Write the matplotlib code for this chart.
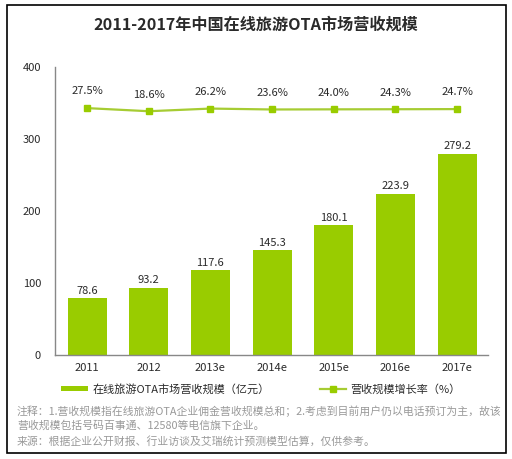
import numpy as np
import matplotlib
matplotlib.use("Agg")
import matplotlib.pyplot as plt
from matplotlib.patches import Rectangle, Patch
from matplotlib.lines import Line2D

plt.rcParams['font.family'] = ['Noto Sans CJK SC', 'DejaVu Sans']

# data
years = ["2011", "2012", "2013e", "2014e", "2015e", "2016e", "2017e"]
revenue = [78.6, 93.2, 117.6, 145.3, 180.1, 223.9, 279.2]
growth = [27.5, 18.6, 26.2, 23.6, 24.0, 24.3, 24.7]

title = "2011-2017年中国在线旅游OTA市场营收规模"
bar_label = "在线旅游OTA市场营收规模（亿元）"
line_label = "营收规模增长率（%）"
notes = [
    "注释：1.营收规模指在线旅游OTA企业佣金营收规模总和；2.考虑到目前用户仍以电话预订为主，故该",
    "营收规模包括号码百事通、12580等电信旗下企业。",
    "来源：根据企业公开财报、行业访谈及艾瑞统计预测模型估算，仅供参考。",
]

bar_color = "#99CC00"
line_color = "#A6CC33"
text_color = "#2a2a2a"
axis_color = "#888888"

W, H = 512, 459
fig = plt.figure(figsize=(W / 100, H / 100), dpi=100)

# outer frame
fig.patches.append(Rectangle((7 / W, 1 - 453 / H), (506 - 7) / W, (453 - 5) / H,
                             transform=fig.transFigure, fill=False,
                             edgecolor="black", linewidth=1.2))

ax = fig.add_axes([55 / W, 1 - 355 / H, (488 - 55) / W, (355 - 67) / H])
x = np.arange(len(years))
ax.bar(x, revenue, width=0.63, color=bar_color, zorder=2)
ax.set_xlim(-0.52, 6.5)
ax.set_ylim(0, 400)
ax.set_yticks([0, 100, 200, 300, 400])
ax.set_xticks(x)
ax.set_xticklabels(years)
ax.tick_params(axis="both", length=0, labelsize=8, colors=text_color)
ax.tick_params(axis="y", pad=10)
ax.tick_params(axis="x", pad=6)
for side in ["top", "right"]:
    ax.spines[side].set_visible(False)
for side in ["left", "bottom"]:
    ax.spines[side].set_color(axis_color)
    ax.spines[side].set_linewidth(1.0)

for xi, v in zip(x, revenue):
    ax.annotate(f"{v:.1f}", (xi, v), xytext=(0, 2), textcoords="offset points",
                ha="center", va="bottom", fontsize=8, color=text_color)

# growth rate on a hidden secondary scale
ax2 = ax.twinx()
ax2.set_ylim(-678, 145)
ax2.axis("off")
ax2.plot(x, growth, color=line_color, linewidth=1.6, marker="s",
         markersize=5, markerfacecolor=bar_color, markeredgecolor=bar_color, zorder=3)
for xi, g in zip(x, growth):
    ax2.annotate(f"{g:.1f}%", (xi, g), xytext=(0, 12), textcoords="offset points",
                 ha="center", va="center", fontsize=8, color=text_color)

fig.text(0.5, 1 - 25 / H, title, ha="center", va="center",
         fontsize=11.6, fontweight="bold", color=text_color)

handles = [Patch(facecolor=bar_color, edgecolor="none"),
           Line2D([0], [0], color=line_color, linewidth=1.6, marker="s",
                  markersize=4, markerfacecolor=bar_color, markeredgecolor=bar_color)]
fig.legend(handles, [bar_label, line_label], loc="center",
           bbox_to_anchor=(0.51, 1 - 389 / H), ncol=2, frameon=False,
           fontsize=8, handlelength=2.4, handleheight=0.45, handletextpad=0.4,
           columnspacing=4.5, labelcolor=text_color)

for i, line in enumerate(notes):
    fig.text(17 / W, 1 - (411 + i * 15) / H, line, ha="left", va="center",
             fontsize=7.8, color="#999999")

fig.savefig("out.png", dpi=100)
